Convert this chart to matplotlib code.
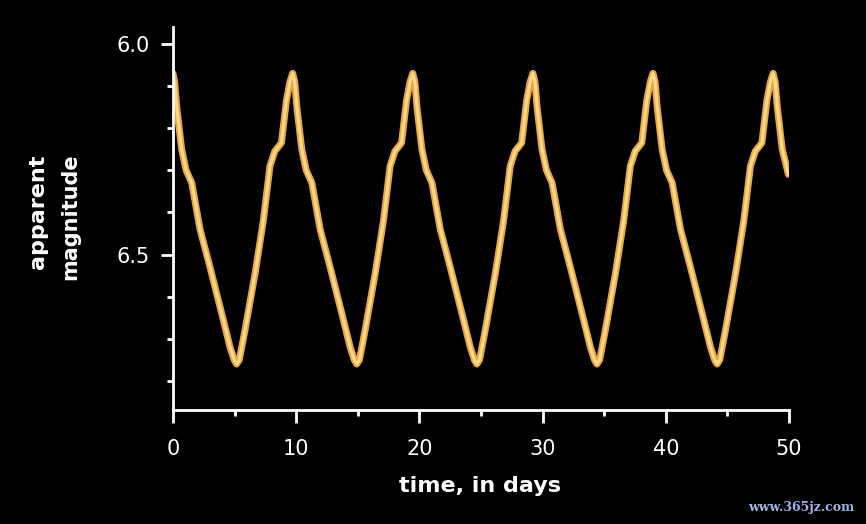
import matplotlib
matplotlib.use("Agg")
import matplotlib.pyplot as plt
from matplotlib.ticker import MultipleLocator

# light curve (days, apparent magnitude)
days = [0.00, 0.13, 0.30, 0.70, 1.06, 1.52, 2.19, 3.00, 3.95, 4.63, 4.96, 5.16, 5.38, 5.84, 6.66, 7.33, 7.87, 8.26, 8.80, 9.20, 9.49, 9.71,
        9.88, 10.05, 10.45, 10.81, 11.27, 11.94, 12.75, 13.70, 14.38, 14.71, 14.91, 15.13, 15.59, 16.41, 17.08, 17.62, 18.01, 18.55, 18.95, 19.24, 19.46,
        19.63, 19.80, 20.20, 20.56, 21.02, 21.69, 22.50, 23.45, 24.13, 24.46, 24.66, 24.88, 25.34, 26.16, 26.83, 27.37, 27.76, 28.30, 28.70, 28.99, 29.21,
        29.38, 29.55, 29.95, 30.31, 30.77, 31.44, 32.25, 33.20, 33.88, 34.21, 34.41, 34.63, 35.09, 35.91, 36.58, 37.12, 37.51, 38.05, 38.45, 38.74, 38.96,
        39.13, 39.30, 39.70, 40.06, 40.52, 41.19, 42.00, 42.95, 43.63, 43.96, 44.16, 44.38, 44.84, 45.66, 46.33, 46.87, 47.26, 47.80, 48.20, 48.49, 48.71,
        48.88, 49.05, 49.45, 49.95]
mags = [6.07, 6.09, 6.15, 6.25, 6.30, 6.33, 6.44, 6.53, 6.64, 6.72, 6.75, 6.76, 6.75, 6.68, 6.545, 6.42, 6.29, 6.255, 6.235, 6.135, 6.09, 6.07,
        6.09, 6.15, 6.25, 6.30, 6.33, 6.44, 6.53, 6.64, 6.72, 6.75, 6.76, 6.75, 6.68, 6.545, 6.42, 6.29, 6.255, 6.235, 6.135, 6.09, 6.07,
        6.09, 6.15, 6.25, 6.30, 6.33, 6.44, 6.53, 6.64, 6.72, 6.75, 6.76, 6.75, 6.68, 6.545, 6.42, 6.29, 6.255, 6.235, 6.135, 6.09, 6.07,
        6.09, 6.15, 6.25, 6.30, 6.33, 6.44, 6.53, 6.64, 6.72, 6.75, 6.76, 6.75, 6.68, 6.545, 6.42, 6.29, 6.255, 6.235, 6.135, 6.09, 6.07,
        6.09, 6.15, 6.25, 6.30, 6.33, 6.44, 6.53, 6.64, 6.72, 6.75, 6.76, 6.75, 6.68, 6.545, 6.42, 6.29, 6.255, 6.235, 6.135, 6.09, 6.07,
        6.09, 6.15, 6.25, 6.31]

x_ticks = [0, 10, 20, 30, 40, 50]
y_ticks = [6.0, 6.5]
y_labels = ["6.0", "6.5"]

fig = plt.figure(figsize=(8.66, 5.24), dpi=100, facecolor="black")
ax = fig.add_axes([0.1998, 0.2176, 0.7113, 0.7309])
ax.set_facecolor("black")

ax.plot(days, mags, color="#eaa53f", lw=5, solid_joinstyle="round", solid_capstyle="round")
ax.plot(days, mags, color="#fcd98c", lw=2.2, solid_joinstyle="round", solid_capstyle="round")

ax.set_xlim(0, 50)
ax.set_ylim(6.869, 5.96)

for s in ["top", "right"]:
    ax.spines[s].set_visible(False)
for s in ["left", "bottom"]:
    ax.spines[s].set_color("white")
    ax.spines[s].set_linewidth(2)

ax.set_xticks(x_ticks)
ax.set_xticklabels([str(v) for v in x_ticks])
ax.xaxis.set_minor_locator(MultipleLocator(5))
ax.set_yticks(y_ticks)
ax.set_yticklabels(y_labels)
ax.yaxis.set_minor_locator(MultipleLocator(0.1))

ax.tick_params(which="major", direction="out", length=9, width=2, color="white",
               labelcolor="white", labelsize=15, pad=8)
ax.tick_params(which="minor", direction="out", length=4.5, width=2, color="white")
ax.tick_params(axis="x", which="major", pad=12)

fig.text(0.5543, 0.072, "time, in days", color="white", fontsize=16, fontweight="bold",
         ha="center", va="center")
fig.text(0.044, 0.595, "apparent", color="white", fontsize=16, fontweight="bold",
         rotation=90, ha="center", va="center")
fig.text(0.081, 0.586, "magnitude", color="white", fontsize=15, fontweight="bold",
         rotation=90, ha="center", va="center")
fig.text(0.925, 0.032, "www.365jz.com", color="#9fb4e6", fontsize=9, fontweight="bold",
         family="DejaVu Serif", ha="center", va="center")

fig.savefig("out.png", dpi=100, facecolor="black")
